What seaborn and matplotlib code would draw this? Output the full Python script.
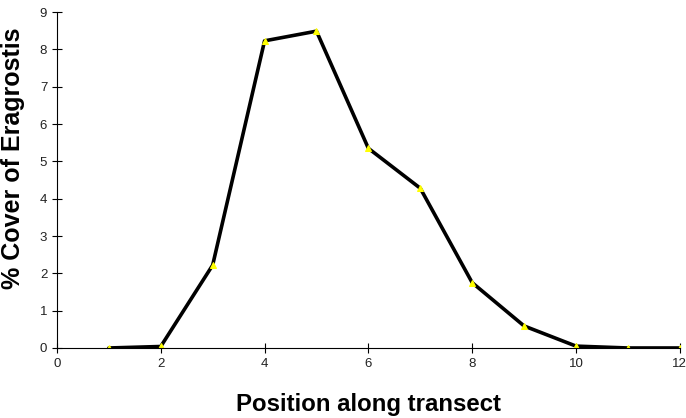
import matplotlib
matplotlib.use("Agg")
import matplotlib.pyplot as plt
import seaborn as sns
import pandas as pd

position = [1, 2, 3, 4, 5, 6, 7, 8, 9, 10, 11, 12]
cover = [0.0, 0.04, 2.22, 8.23, 8.49, 5.35, 4.28, 1.75, 0.59, 0.05, 0.0, 0.0]
x_ticks = [0, 2, 4, 6, 8, 10, 12]
y_ticks = [0, 1, 2, 3, 4, 5, 6, 7, 8, 9]

sns.set_style("white")
plt.rcParams['font.family'] = ['Liberation Sans', 'DejaVu Sans']

df = pd.DataFrame({"Position": position, "Cover": cover})

fig = plt.figure(figsize=(6.86, 4.18), dpi=100)
ax = fig.add_axes([0.083, 0.1675, 0.908, 0.8035])
sns.lineplot(data=df, x="Position", y="Cover", ax=ax, color="black", linewidth=2.6,
             marker="^", markersize=5, markerfacecolor="#ffff00", markeredgecolor="#ffff00")

ax.set_xlim(0, 12)
ax.set_ylim(0, 9)
ax.set_xticks(x_ticks)
ax.set_yticks(y_ticks)
ax.tick_params(axis="both", direction="inout", length=7, width=0.8, labelsize=9.5,
               colors="black", labelcolor="#222222", left=True, bottom=True)
for s in ["top", "right"]:
    ax.spines[s].set_visible(False)
for s in ["left", "bottom"]:
    ax.spines[s].set_color("black")
    ax.spines[s].set_linewidth(0.8)
ax.set_xlabel("Position along transect", fontsize=17.3, fontweight="bold",
              color="black", labelpad=17)
ax.set_ylabel("% Cover of Eragrostis", fontsize=18, fontweight="bold", color="black")
ax.yaxis.set_label_coords(-0.052, 0.565)

fig.savefig("out.png", dpi=100)
